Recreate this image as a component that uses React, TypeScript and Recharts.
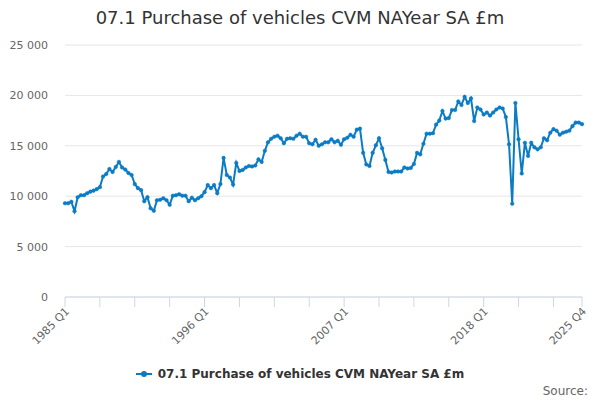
import { LineChart, Line, XAxis, YAxis, CartesianGrid } from 'recharts'

const seriesName = '07.1 Purchase of vehicles CVM NAYear SA £m'
const lineColor = '#0b7bc4'

// 1985 Q1 .. 2025 Q4
const quarters: string[] = []
for (let year = 1985; year <= 2025; year++) {
  for (let q = 1; q <= 4; q++) quarters.push(`${year} Q${q}`)
}

const purchases = [
  9300, 9300, 9450, 8500, 9900, 10100, 10100, 10300, 10450, 10550, 10700, 10900, 11950, 12200, 12700, 12400,
  12900, 13400, 12850, 12650, 12300, 12100, 11200, 10800, 10600, 9500, 9900, 8800, 8550, 9600, 9650, 9800,
  9600, 9150, 10050, 10100, 10200, 10050, 10050, 9500, 9850, 9600, 9800, 10000, 10400, 11100, 10800, 11100,
  10300, 11200, 13800, 12100, 11850, 11150, 13300, 12500, 12600, 12850, 13000, 12950, 13050, 13650, 13400, 14500,
  15350, 15700, 15900, 16000, 15750, 15250, 15700, 15750, 15700, 16000, 16200, 15900, 15900, 15250, 15150, 15600,
  15000, 15150, 15350, 15350, 15650, 15350, 15500, 15100, 15650, 15800, 16100, 15900, 16600, 16700, 14300, 13150,
  13000, 14300, 15050, 15750, 14750, 13600, 12400, 12350, 12450, 12450, 12450, 12850, 12750, 12800, 13200, 14300,
  14150, 15200, 16200, 16200, 16250, 17100, 17500, 18450, 17700, 17750, 18550, 18550, 19400, 19050, 19850, 19250,
  19700, 17450, 18800, 18600, 18100, 18300, 18000, 18300, 18600, 18800, 18700, 17850, 15150, 9250, 19250, 15650,
  12250, 15300, 14000, 15300, 14850, 14650, 14850, 15750, 15550, 16300, 16650, 16500, 16100, 16300, 16400, 16500,
  16950, 17300, 17300, 17150,
]

const xTicks = quarters.filter((_, i) => i % 11 === 0).concat(quarters[quarters.length - 1])
const xLabels = ['1985 Q1', '1996 Q1', '2007 Q1', '2018 Q1', '2025 Q4']
const yTicks = [0, 5000, 10000, 15000, 20000, 25000]

const data = quarters.map((quarter, i) => ({ quarter, value: purchases[i] }))

const font = '"DejaVu Sans", sans-serif'

const formatThousands = (v: number) => String(v).replace(/\B(?=(\d{3})+(?!\d))/g, ' ')

const QuarterTick = ({ x, y, payload }: any) => {
  if (!xLabels.includes(payload.value)) return <g />
  const tx = x + 5
  const ty = y + 3
  return (
    <text x={tx} y={ty} transform={`rotate(-45 ${tx} ${ty})`} textAnchor="end" fill="#666" fontSize={11} fontFamily={font}>
      {payload.value}
    </text>
  )
}

export default function App() {
  return (
    <div style={{ position: 'absolute', left: 0, top: 0, width: 600, height: 400, background: '#fff', fontFamily: font }}>
      <div style={{ position: 'absolute', top: 7, left: 0, width: 600, textAlign: 'center', fontSize: 18, color: '#333' }}>
        {seriesName}
      </div>
      <LineChart width={600} height={400} data={data} margin={{ top: 45, right: 18, bottom: 0, left: 0 }}>
        <CartesianGrid vertical={false} stroke="#e6e6e6" />
        <XAxis
          dataKey="quarter"
          ticks={xTicks}
          interval={0}
          height={103}
          tick={<QuarterTick />}
          tickSize={10}
          tickMargin={2}
          axisLine={{ stroke: '#ccd6eb' }}
          tickLine={{ stroke: '#ccd6eb' }}
        />
        <YAxis
          domain={[0, 25000]}
          ticks={yTicks}
          width={65}
          axisLine={false}
          tickLine={false}
          tickMargin={11}
          tickFormatter={formatThousands}
          tick={{ fill: '#666', fontSize: 11, fontFamily: font }}
        />
        <Line
          type="linear"
          dataKey="value"
          name={seriesName}
          stroke={lineColor}
          strokeWidth={2}
          dot={{ r: 1.8, fill: lineColor, stroke: lineColor, strokeWidth: 0.5 }}
          isAnimationActive={false}
        />
      </LineChart>
      <div style={{ position: 'absolute', top: 367, left: 0, width: 600, display: 'flex', justifyContent: 'center', alignItems: 'center' }}>
        <svg width={16} height={12} style={{ marginRight: 6 }}>
          <line x1={0} y1={6} x2={16} y2={6} stroke={lineColor} strokeWidth={2} />
          <circle cx={8} cy={6} r={3} fill={lineColor} />
        </svg>
        <span style={{ fontSize: 12, fontWeight: 'bold', color: '#333' }}>{seriesName}</span>
      </div>
      <div style={{ position: 'absolute', top: 384, right: 12, fontSize: 12, color: '#666' }}>Source:</div>
    </div>
  )
}
